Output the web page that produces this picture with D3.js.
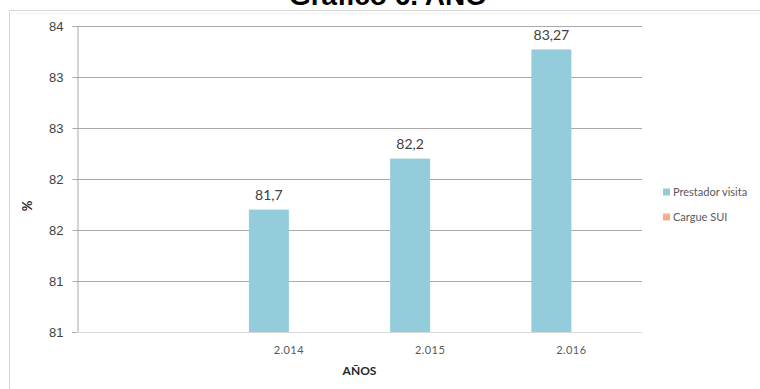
<!DOCTYPE html>
<html>
<head>
<meta charset="utf-8">
<script src="https://cdn.jsdelivr.net/npm/d3@7/dist/d3.min.js"></script>
<style>
  html, body { margin: 0; padding: 0; background: #fff; }
  svg { display: block; }
</style>
</head>
<body>
<svg id="chart" width="760" height="389"></svg>
<script>
// Chart data
const categories = ["", "2.014", "2.015", "2.016"];
const seriesNames = ["Prestador visita", "Cargue SUI"];
const prestadorVisita = [null, 81.7, 82.2, 83.27];
const cargueSUI = [null, null, null, null];
const yTicks = [80.5, 81, 81.5, 82, 82.5, 83, 83.5];
const yDomain = [80.5, 83.5];
const colors = ["#93CDDC", "#F5B183"];
const titleText = "Gráfico 6. AÑO";
const xTitle = "AÑOS";
const yTitle = "%";

const svg = d3.select("#chart");
const W = 760, H = 389;
const plot = { left: 77, right: 642, top: 26, bottom: 332 };

// Outer chart frame
svg.append("rect")
  .attr("x", 9.5).attr("y", 10.5)
  .attr("width", W + 20).attr("height", H + 20)
  .attr("fill", "none").attr("stroke", "#d6d6d6");
svg.append("line")
  .attr("x1", 10).attr("x2", W).attr("y1", 13.5).attr("y2", 13.5)
  .attr("stroke", "#f3f3f3");

// Title
svg.append("text")
  .attr("x", 388).attr("y", 5)
  .attr("text-anchor", "middle")
  .style("font-family", "'Liberation Sans', Arial, sans-serif")
  .style("font-weight", "bold")
  .style("font-size", "28px")
  .attr("fill", "#000")
  .text(titleText);

// Scales
const x = d3.scaleBand().domain(categories).range([plot.left, plot.right]).paddingInner(0).paddingOuter(0);
const bw = x.bandwidth();
const xs = d3.scaleBand().domain(seriesNames).range([bw / 2 - 40, bw / 2 + 40]).padding(0);
const y = d3.scaleLinear().domain(yDomain).range([plot.bottom, plot.top]);

// Horizontal gridlines
svg.append("g")
  .selectAll("line")
  .data(yTicks.filter(t => t !== yDomain[0]))
  .join("line")
  .attr("x1", plot.left).attr("x2", plot.right)
  .attr("y1", d => Math.round(y(d)) + 0.5).attr("y2", d => Math.round(y(d)) + 0.5)
  .attr("stroke", "#a9a9a9");

// Y axis
const yAxis = svg.append("g")
  .attr("transform", `translate(${plot.left + 0.5},0)`)
  .call(d3.axisLeft(y).tickValues(yTicks).tickSize(5).tickPadding(9)
    .tickFormat(d => String(Math.round(d))));
yAxis.select(".domain").attr("stroke", "#a9a9a9");
yAxis.selectAll(".tick line").attr("stroke", "#a9a9a9");
yAxis.selectAll(".tick").attr("transform", d => `translate(0,${Math.round(y(d)) + 0.5})`);
yAxis.selectAll("text")
  .style("font-family", "'Liberation Sans', Arial, sans-serif")
  .style("font-size", "13px")
  .attr("fill", "#3f3f3f");

// Bars
const seriesData = [prestadorVisita, cargueSUI];
const barsG = svg.append("g");
seriesData.forEach((vals, si) => {
  const pts = categories.map((c, i) => ({ c, v: vals[i] })).filter(d => d.v != null);
  barsG.selectAll(null)
    .data(pts)
    .join("rect")
    .attr("x", d => x(d.c) + xs(seriesNames[si]))
    .attr("width", xs.bandwidth())
    .attr("y", d => y(d.v))
    .attr("height", d => y(yDomain[0]) - y(d.v))
    .attr("fill", colors[si]);
  barsG.selectAll(null)
    .data(pts)
    .join("text")
    .attr("x", d => x(d.c) + xs(seriesNames[si]) + xs.bandwidth() / 2)
    .attr("y", d => y(d.v) - 9.5)
    .attr("text-anchor", "middle")
    .style("font-family", "Lato, 'Open Sans', sans-serif")
    .style("font-size", "14px")
    .attr("fill", "#404040")
    .text(d => String(d.v).replace(".", ","));
});

// X axis baseline
svg.append("line")
  .attr("x1", plot.left).attr("x2", plot.right)
  .attr("y1", plot.bottom + 0.5).attr("y2", plot.bottom + 0.5)
  .attr("stroke", "#d9d9d9");

// X axis labels
const xAxis = svg.append("g")
  .attr("transform", `translate(0,${plot.bottom})`)
  .call(d3.axisBottom(x).tickSize(0).tickPadding(14));
xAxis.select(".domain").remove();
xAxis.selectAll("text")
  .style("font-family", "Lato, 'Open Sans', sans-serif")
  .style("font-size", "11px")
  .style("letter-spacing", "0.4px")
  .attr("fill", "#595959");

// Axis titles
svg.append("text")
  .attr("x", (plot.left + plot.right) / 2).attr("y", 375)
  .attr("text-anchor", "middle")
  .style("font-family", "Lato, 'Open Sans', sans-serif")
  .style("font-weight", "bold")
  .style("font-size", "12px")
  .attr("fill", "#262626")
  .text(xTitle);

svg.append("text")
  .attr("transform", "translate(32,206) rotate(-90)")
  .attr("text-anchor", "middle")
  .style("font-family", "Lato, 'Open Sans', sans-serif")
  .style("font-weight", "bold")
  .style("font-size", "13px")
  .attr("fill", "#262626")
  .text(yTitle);

// Legend
const legend = svg.append("g").attr("transform", "translate(663,192)");
seriesNames.forEach((name, i) => {
  const g = legend.append("g").attr("transform", `translate(0,${i * 25})`);
  g.append("rect").attr("x", 0).attr("y", -3.5).attr("width", 7).attr("height", 7).attr("fill", colors[i]);
  g.append("text")
    .attr("x", 10).attr("y", 4)
    .style("font-family", "Lato, 'Open Sans', sans-serif")
    .style("font-size", "11px")
    .attr("fill", "#595959")
    .text(name);
});
</script>
</body>
</html>
